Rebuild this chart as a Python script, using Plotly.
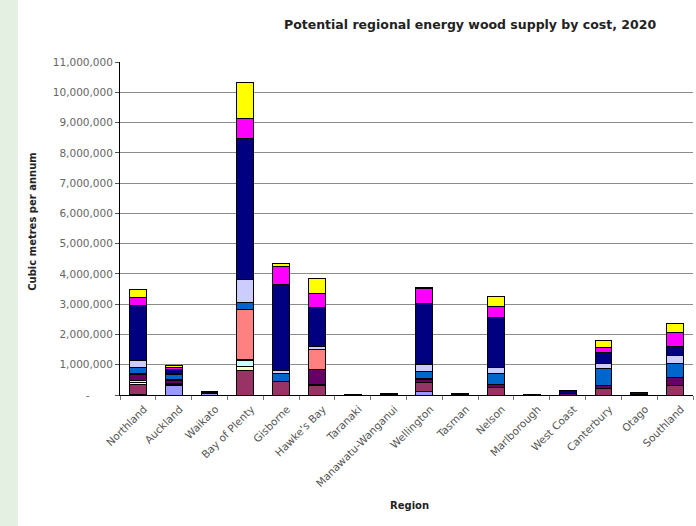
import plotly.graph_objects as go

# Regions along the category axis
regions = ["Northland", "Auckland", "Waikato", "Bay of Plenty", "Gisborne",
           "Hawke's Bay", "Taranaki", "Manawatu-Wanganui", "Wellington",
           "Tasman", "Nelson", "Marlborough", "West Coast", "Canterbury",
           "Otago", "Southland"]

# Supply by cost band (cubic metres per annum), stacked bottom to top
band_1 = [20000, 300000, 60000, 0, 0, 0, 0, 0, 100000, 0, 0, 0, 0, 0, 0, 0]
band_2 = [330000, 50000, 0, 800000, 440000, 300000, 0, 0, 300000, 0, 250000, 0, 0, 220000, 0, 300000]
band_3 = [50000, 0, 0, 150000, 0, 20000, 0, 0, 0, 0, 0, 0, 0, 0, 0, 0]
band_4 = [80000, 20000, 0, 200000, 0, 20000, 0, 0, 0, 0, 0, 0, 0, 0, 0, 0]
band_5 = [200000, 100000, 20000, 20000, 0, 500000, 10000, 20000, 120000, 20000, 100000, 10000, 50000, 80000, 20000, 280000]
band_6 = [20000, 30000, 0, 1650000, 0, 650000, 0, 0, 20000, 0, 10000, 0, 0, 0, 0, 0]
band_7 = [200000, 170000, 30000, 250000, 280000, 20000, 0, 0, 220000, 0, 360000, 0, 0, 570000, 0, 470000]
band_8 = [250000, 30000, 0, 750000, 100000, 100000, 0, 0, 250000, 0, 190000, 0, 0, 170000, 0, 240000]
band_9 = [1800000, 150000, 0, 4650000, 2820000, 1280000, 20000, 30000, 2000000, 40000, 1640000, 20000, 100000, 350000, 50000, 310000]
band_10 = [270000, 70000, 0, 650000, 620000, 450000, 0, 0, 520000, 0, 380000, 0, 0, 190000, 0, 460000]
band_11 = [270000, 50000, 0, 1200000, 100000, 500000, 0, 0, 20000, 0, 310000, 0, 0, 220000, 0, 290000]

band_names = ["Cost band 1", "Cost band 2", "Cost band 3", "Cost band 4",
              "Cost band 5", "Cost band 6", "Cost band 7", "Cost band 8",
              "Cost band 9", "Cost band 10", "Cost band 11"]
band_values = [band_1, band_2, band_3, band_4, band_5, band_6, band_7,
               band_8, band_9, band_10, band_11]
band_colors = ["#9999FF", "#993366", "#FFFFCC", "#CCFFFF", "#660066", "#FF8080",
               "#0066CC", "#CCCCFF", "#000080", "#FF00FF", "#FFFF00"]

# Y axis ticks
y_tick_values = [i * 1000000 for i in range(12)]
y_tick_text = ["-\u00a0\u00a0\u00a0\u00a0\u00a0\u00a0\u00a0"] + [f"{v:,}" for v in y_tick_values[1:]]

FONT = "DejaVu Sans, Verdana, sans-serif"

fig = go.Figure()
for name, vals, col in zip(band_names, band_values, band_colors):
    fig.add_trace(go.Bar(
        x=regions, y=vals, name=name,
        marker=dict(color=col, line=dict(color="#000000", width=1)),
    ))

fig.update_layout(
    width=696, height=526,
    barmode="stack", bargap=0.53,
    showlegend=False,
    paper_bgcolor="#ffffff", plot_bgcolor="#ffffff",
    margin=dict(l=120, r=3, t=62, b=131),
    font=dict(family=FONT, size=11, color="#333333"),
)

fig.update_xaxes(
    range=[-0.5, 15.5],
    tickangle=-45,
    tickfont=dict(size=10.5, color="#555555"),
    ticklabelshift=6, ticklabelstandoff=3,
    showline=True, linecolor="#000000", linewidth=1,
    ticks="outside", ticklen=4, tickcolor="#777777",
    tickson="boundaries",
    showgrid=False,
)
fig.update_yaxes(
    range=[0, 11000000],
    tickvals=y_tick_values, ticktext=y_tick_text,
    tickfont=dict(size=10.5, color="#666666"),
    showline=True, linecolor="#000000", linewidth=1,
    ticks="outside", ticklen=4, tickcolor="#555555",
    showgrid=True, gridcolor="#8c8c8c", gridwidth=1,
    zeroline=False,
)

# Pale strip along the left edge of the page
fig.add_shape(type="rect", xref="paper", yref="paper",
              x0=-0.215, x1=-0.178, y0=-0.4, y1=1.2,
              fillcolor="#e4f0e1", line=dict(width=0), layer="below")

fig.add_annotation(text="<b>Potential regional energy wood supply by cost, 2020</b>",
                   xref="paper", yref="paper", x=0.611, y=1.114,
                   showarrow=False, font=dict(size=12.5, color="#222222"),
                   xanchor="center", yanchor="middle")
fig.add_annotation(text="<b>Cubic metres per annum</b>",
                   xref="paper", yref="paper", x=-0.152, y=0.52,
                   textangle=-90, showarrow=False,
                   font=dict(size=10, color="#222222"),
                   xanchor="center", yanchor="middle")
fig.add_annotation(text="<b>Region</b>",
                   xref="paper", yref="paper", x=0.506, y=-0.331,
                   showarrow=False, font=dict(size=10, color="#222222"),
                   xanchor="center", yanchor="middle")

fig.write_html("out.html")
